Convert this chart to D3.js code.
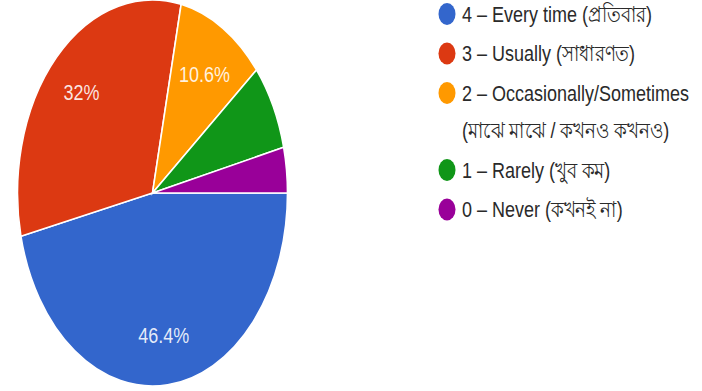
<!DOCTYPE html>
<html>
<head>
<meta charset="utf-8">
<script src="https://cdn.jsdelivr.net/npm/d3@7"></script>
<style>
  html, body { margin: 0; padding: 0; background: #ffffff; }
  svg { display: block; }
</style>
</head>
<body>
<svg id="chart" width="702" height="391"></svg>
<script>
// ---- data ----
const categories = [
  "4 – Every time (প্রতিবার)",
  "3 – Usually (সাধারণত)",
  "2 – Occasionally/Sometimes\n(মাঝে মাঝে / কখনও কখনও)",
  "1 – Rarely (খুব কম)",
  "0 – Never (কখনই না)"
];
const values = [46.4, 32, 10.6, 7.2, 3.8];
const sliceLabels = ["46.4%", "32%", "10.6%", "", ""];
const colors = ["#3366cc", "#dc3912", "#ff9900", "#109618", "#990099"];

// ---- layout ----
const W = 702, H = 391;
const cx = 152.5, cy = 193, r = 135, stretch = 1.43;
const svg = d3.select("#chart");
svg.append("rect").attr("width", W).attr("height", H).attr("fill", "#fff");

const pie = d3.pie().sort(null).value(d => d)
  .startAngle(Math.PI / 2).endAngle(Math.PI / 2 + 2 * Math.PI);
const arcs = pie(values);
const arc = d3.arc().innerRadius(0).outerRadius(r);
const labelArc = d3.arc().innerRadius(r * 0.74).outerRadius(r * 0.74);

const g = svg.append("g")
  .attr("transform", `translate(${cx},${cy}) scale(1,${stretch})`);
g.selectAll("path").data(arcs).enter().append("path")
  .attr("d", arc)
  .attr("fill", (d, i) => colors[i])
  .attr("stroke", "#fff")
  .attr("stroke-width", 1.6)
  .attr("vector-effect", "non-scaling-stroke");

const txtScale = 1.2;
svg.selectAll("text.slice").data(arcs).enter().append("text")
  .attr("class", "slice")
  .attr("transform", d => {
    const c = labelArc.centroid(d);
    return `translate(${cx + c[0]},${cy + c[1] * stretch + (d.index === 2 ? 3 : 0)}) scale(1,${txtScale})`;
  })
  .attr("text-anchor", "middle")
  .attr("dy", "0.36em")
  .attr("font-family", "'Liberation Sans', Arial, sans-serif")
  .attr("font-size", 18)
  .attr("fill", "#ffffff")
  .attr("fill-opacity", 0.88)
  .text((d, i) => sliceLabels[i]);

// ---- legend ----
const legX = 447, textX = 462, legY0 = 14, lineH = 37.5, itemGap = 39.5;
let y = legY0;
const leg = svg.append("g");
categories.forEach((c, i) => {
  const lines = c.split("\n");
  leg.append("ellipse")
    .attr("cx", legX).attr("cy", y)
    .attr("rx", 8.5).attr("ry", 11)
    .attr("fill", colors[i]);
  lines.forEach((ln, j) => {
    leg.append("text")
      .attr("transform", `translate(${textX},${y + j * lineH}) scale(1,${txtScale})`)
      .attr("dy", "0.36em")
      .attr("font-family", "'Liberation Sans', Arial, 'Noto Sans', sans-serif")
      .attr("font-size", 18)
      .attr("fill", "#2a2a2a")
      .text(ln);
  });
  y += (lines.length - 1) * lineH + itemGap;
});
</script>
</body>
</html>
